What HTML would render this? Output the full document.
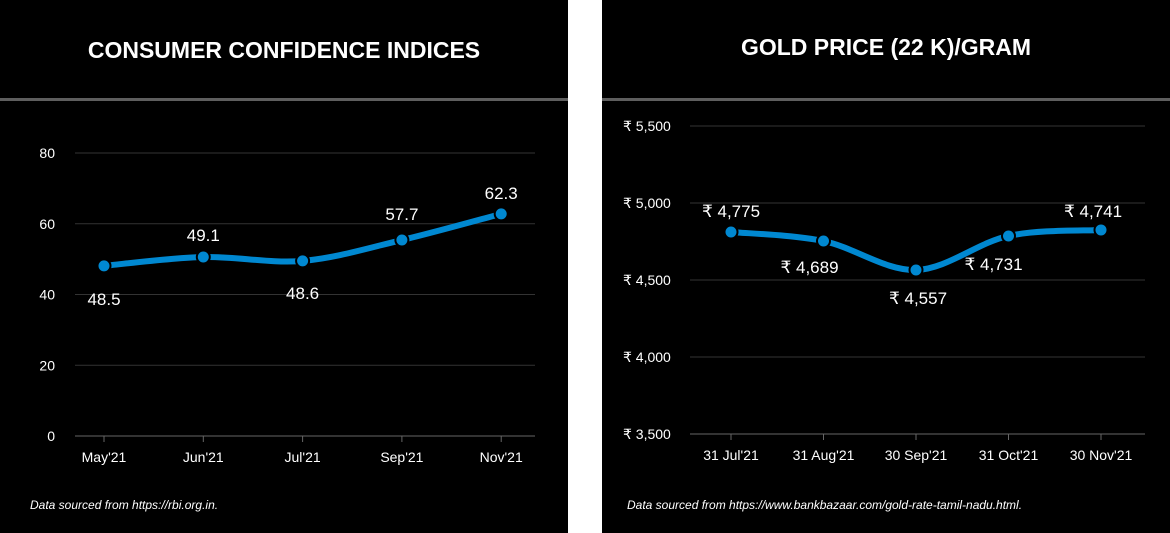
<!DOCTYPE html>
<html><head><meta charset="utf-8"><style>
body{margin:0;width:1170px;height:533px;background:#fff;overflow:hidden;font-family:"Liberation Sans",sans-serif}
svg{display:block}
</style></head><body>
<svg width="1170" height="533">
<rect x="0" y="0" width="568" height="533" fill="#000"/>
<rect x="602" y="0" width="568" height="533" fill="#000"/>
<rect x="0" y="98" width="568" height="3" fill="#5e5e5e"/>
<rect x="602" y="98" width="568" height="3" fill="#5e5e5e"/>
<text x="284" y="58" fill="#fff" font-size="23" font-weight="bold" text-anchor="middle">CONSUMER CONFIDENCE INDICES</text>
<text x="886" y="55" fill="#fff" font-size="23" font-weight="bold" text-anchor="middle">GOLD PRICE (22 K)/GRAM</text>
<text x="30" y="509" fill="#fff" font-size="12" font-style="italic">Data sourced from https://rbi.org.in.</text>
<text x="627" y="509" fill="#fff" font-size="12" font-style="italic">Data sourced from https://www.bankbazaar.com/gold-rate-tamil-nadu.html.</text>
<g id="c1"></g>
<g id="c2"></g>
</svg>
<script>
const ccCategories=["May'21","Jun'21","Jul'21","Sep'21","Nov'21"];
const ccValues=[48.1,50.6,49.5,55.4,62.8];
const ccLabels=["48.5","49.1","48.6","57.7","62.3"];
const ccTicks=[0,20,40,60,80];
const goldCategories=["31 Jul'21","31 Aug'21","30 Sep'21","31 Oct'21","30 Nov'21"];
const goldValues=[4812,4753,4565,4786,4825];
const goldLabels=["₹ 4,775","₹ 4,689","₹ 4,557","₹ 4,731","₹ 4,741"];
const goldTicks=[3500,4000,4500,5000,5500];
const goldTickLabels=["₹ 3,500","₹ 4,000","₹ 4,500","₹ 5,000","₹ 5,500"];
const NS="http://www.w3.org/2000/svg";
function mk(p,t,a){const e=document.createElementNS(NS,t);for(const k in a)e.setAttribute(k,a[k]);p.appendChild(e);return e;}
function draw(g,cfg){
  const y=v=>cfg.yb-(v-cfg.min)/(cfg.max-cfg.min)*(cfg.yb-cfg.yt);
  const x=i=>cfg.x0+i*cfg.step;
  cfg.ticks.forEach((t,i)=>{
    const ln=mk(g,'line',{x1:cfg.ax1,x2:cfg.ax2,y1:y(t),y2:y(t),stroke:i==0?'#666':'#333','stroke-width':1});
    
    
    const tx=mk(g,'text',{x:cfg.lx,y:y(t)+5,fill:'#fff','font-size':14,'text-anchor':cfg.anchor});
    tx.textContent=cfg.tickLabels[i];
    
    
  });
  cfg.cats.forEach((c,i)=>{
    const tk=mk(g,'line',{x1:x(i),x2:x(i),y1:cfg.yb,y2:cfg.yb+6,stroke:'#666'});
    
    
    const tx=mk(g,'text',{x:x(i),y:cfg.yb+26,fill:'#fff','font-size':14,'text-anchor':'middle'});
    tx.textContent=c;
    
    
  });
  const P=cfg.vals.map((v,i)=>[x(i),y(v)]);
  let d='M'+P[0][0]+','+P[0][1];
  for(let i=0;i<P.length-1;i++){
    const p0=P[Math.max(0,i-1)],p1=P[i],p2=P[i+1],p3=P[Math.min(P.length-1,i+2)];
    const c1=[p1[0]+(p2[0]-p0[0])/6,p1[1]+(p2[1]-p0[1])/6],c2=[p2[0]-(p3[0]-p1[0])/6,p2[1]-(p3[1]-p1[1])/6];
    d+=' C'+c1+' '+c2+' '+p2;
  }
  const path=mk(g,'path',{d:d,fill:'none',stroke:'#0088d1','stroke-width':6});
  
  
  P.forEach((p,i)=>{
    const c=mk(g,'circle',{cx:p[0],cy:p[1],r:6.5,fill:'#0088d1',stroke:'#000','stroke-width':2});
    
    
    const t=mk(g,'text',{x:p[0]+cfg.lo[i][0],y:p[1]+cfg.lo[i][1],fill:'#fff','font-size':17,'text-anchor':'middle'});
    t.textContent=cfg.labels[i];
    
    
  });
}
draw(document.getElementById('c1'),{cats:ccCategories,vals:ccValues,labels:ccLabels,ticks:ccTicks,tickLabels:ccTicks.map(String),
 min:0,max:80,yt:153,yb:436,x0:104,step:99.3,ax1:75,ax2:535,lx:55,anchor:'end',
 lo:[[0,39],[0,-16],[0,38],[0,-20],[0,-15]]});
draw(document.getElementById('c2'),{cats:goldCategories,vals:goldValues,labels:goldLabels,ticks:goldTicks,tickLabels:goldTickLabels,
 min:3500,max:5500,yt:126,yb:434,x0:731,step:92.5,ax1:690,ax2:1145,lx:623,anchor:'start',
 lo:[[0,-15],[-14,32],[2,34],[-15,34],[-8,-13]]});
</script>
</body></html>
